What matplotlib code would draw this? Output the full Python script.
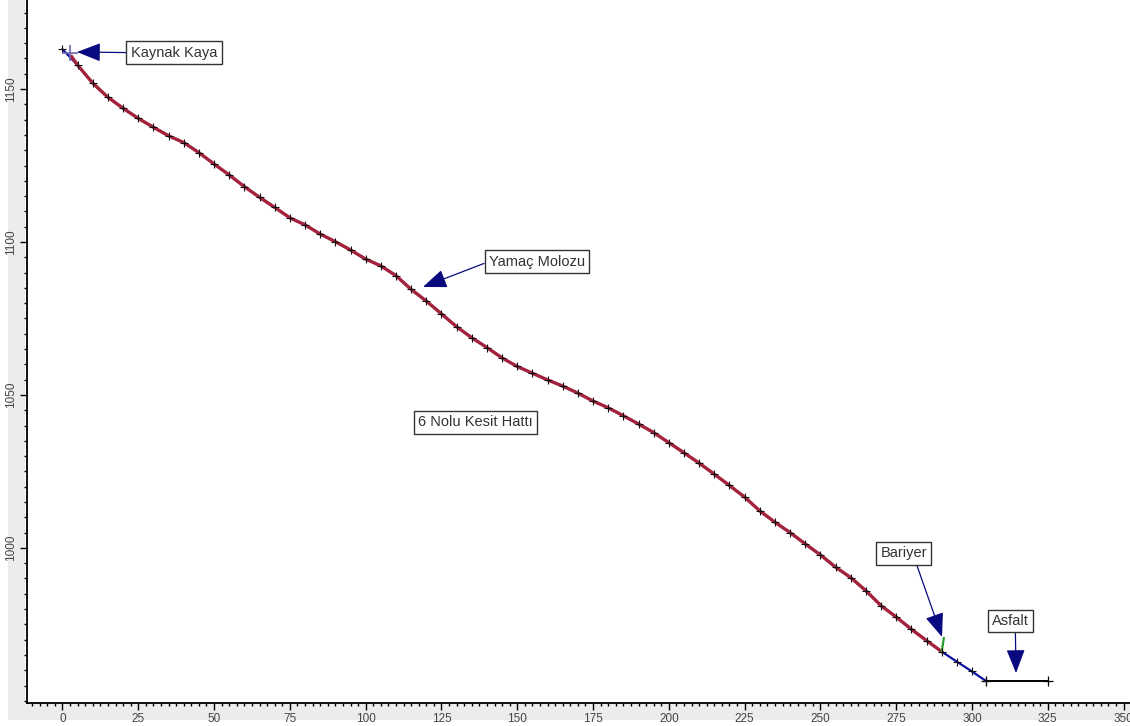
import matplotlib
matplotlib.use("Agg")
import matplotlib.pyplot as plt
from matplotlib.patches import Rectangle
from matplotlib.ticker import MultipleLocator

plt.rcParams['font.family'] = ['Liberation Sans', 'DejaVu Sans']

# ---- data ----
dist = [0, 5, 10, 15, 20, 25, 30, 35, 40, 45, 50, 55, 60, 65, 70, 75, 80, 85, 90, 95,
        100, 105, 110, 115, 120, 125, 130, 135, 140, 145, 150, 155, 160, 165, 170, 175,
        180, 185, 190, 195, 200, 205, 210, 215, 220, 225, 230, 235, 240, 245, 250, 255,
        260, 265, 270, 275, 280, 285, 290, 295, 300, 304.6]
elev = [1163.0, 1157.8, 1151.9, 1147.3, 1143.7, 1140.4, 1137.5, 1134.7, 1132.5, 1129.2,
        1125.5, 1121.9, 1118.1, 1114.6, 1111.3, 1107.9, 1105.6, 1102.6, 1100.1, 1097.4,
        1094.4, 1092.2, 1089.0, 1084.5, 1080.7, 1076.5, 1072.3, 1068.7, 1065.5, 1062.1,
        1059.3, 1057.1, 1054.9, 1052.9, 1050.6, 1048.0, 1045.8, 1043.2, 1040.5, 1037.7,
        1034.4, 1031.1, 1027.7, 1024.1, 1020.4, 1016.6, 1012.1, 1008.4, 1005.0, 1001.3,
        997.7, 993.7, 990.3, 986.0, 981.1, 977.4, 973.4, 969.7, 966.1, 962.8, 959.6, 956.5]

red_start = (3.0, 1160.6)          # colluvium layer starts here
red_end_dist = 290                  # colluvium ends at barrier
barrier_x = [290, 290.7]
barrier_y = [966.1, 970.5]
asphalt_x = [304.6, 325.2]
asphalt_y = [956.5, 956.5]
source_marker = (2.5, 1161.8)

labels = ["Kaynak Kaya", "Yamaç Molozu", "6 Nolu Kesit Hattı", "Bariyer", "Asfalt"]
label_pos = [(36.8, 1161.9), (156.5, 1093.6), (136.2, 1041.0), (277.4, 998.2), (312.7, 976.1)]
arrow_tip = [(4.8, 1162.1), (118.9, 1085.3), None, (290.1, 970.9), (314.5, 959.1)]
arrow_rel = [(0, 0.5), (0, 0.5), None, (0.75, 0), (0.63, 0)]

x_major = list(range(0, 351, 25))
y_major = [1000, 1050, 1100, 1150]

# ---- figure ----
fig = plt.figure(figsize=(11.30, 7.26), dpi=100, facecolor='white')
# grey strips behind tick labels
fig.patches.append(Rectangle((8 / 1130, 6 / 726), 17 / 1130, 720 / 726,
                             transform=fig.transFigure, fc='#ececec', ec='none', zorder=-5))
fig.patches.append(Rectangle((8 / 1130, 6 / 726), 1122 / 1130, 17 / 726,
                             transform=fig.transFigure, fc='#ececec', ec='none', zorder=-5))

ax = fig.add_axes([27 / 1130, 23 / 726, 1 - 27 / 1130, 1 - 23 / 726])
ax.set_facecolor('white')
ax.set_xlim(-11.7, 352.1)
ax.set_ylim(949.3, 1179.1)

for s in ['top', 'right']:
    ax.spines[s].set_visible(False)
for s in ['left', 'bottom']:
    ax.spines[s].set_linewidth(1.3)
    ax.spines[s].set_color('black')

ax.xaxis.set_major_locator(MultipleLocator(25))
ax.xaxis.set_minor_locator(MultipleLocator(2.5))
ax.yaxis.set_major_locator(MultipleLocator(50))
ax.yaxis.set_minor_locator(MultipleLocator(5))
ax.tick_params(axis='both', which='major', direction='out', length=5, width=1, color='black',
               labelsize=8.5, labelcolor='#444444', pad=2)
ax.tick_params(axis='both', which='minor', direction='out', length=2.5, width=1, color='black')
ax.set_xticks(x_major)
ax.set_yticks(y_major)
ax.set_xticklabels([str(v) for v in x_major])
ax.set_yticklabels([str(v) for v in y_major], rotation=90, va='center')

# blue full profile (base line)
ax.plot(dist, elev, color='#1010a0', lw=1.6, zorder=2)
# red colluvium line
i_end = dist.index(red_end_dist)
rx = [red_start[0]] + dist[1:i_end + 1]
ry = [red_start[1]] + elev[1:i_end + 1]
ax.plot(rx, ry, color='#a4223c', lw=2.4, zorder=3)
# barrier
ax.plot(barrier_x, barrier_y, color='#2a9a2a', lw=1.6, zorder=4)
# asphalt
ax.plot(asphalt_x, asphalt_y, color='black', lw=1.4, marker='+', ms=7, mew=0.9, zorder=4)
# point markers
ax.plot(dist, elev, ls='none', marker='+', ms=6, mew=0.8, color='#111111', zorder=5)
ax.plot([source_marker[0]], [source_marker[1]], ls='none', marker='+', ms=11, mew=1.2,
        color='#6a6ab8', zorder=6)

for lab, pos, tip, rel in zip(labels, label_pos, arrow_tip, arrow_rel):
    tx, ty = pos
    bbox = dict(boxstyle='square,pad=0.3', fc='white', ec='#333333', lw=1)
    if tip is None:
        ax.text(tx, ty, lab, ha='center', va='center', fontsize=10.5, color='#333333',
                bbox=bbox, zorder=7)
    else:
        ax.annotate(lab, xy=tip, xytext=(tx, ty), ha='center', va='center', fontsize=10.5,
                    color='#333333', bbox=bbox, zorder=7,
                    arrowprops=dict(arrowstyle='-|>,head_length=1.4,head_width=0.55',
                                    color='#0a0a80', lw=0.9, relpos=rel,
                                    shrinkA=0, shrinkB=0))

fig.savefig('out.png', dpi=100, facecolor='white')
